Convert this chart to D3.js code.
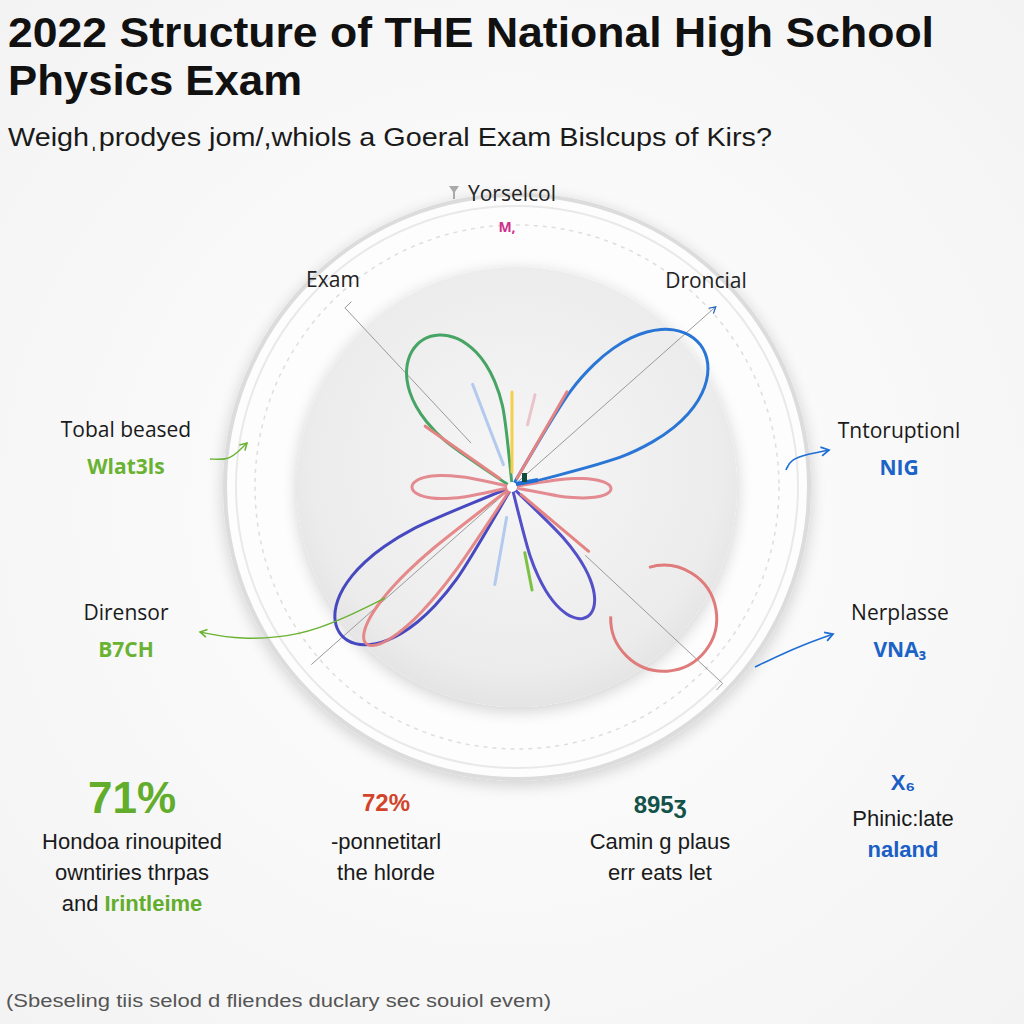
<!DOCTYPE html>
<html>
<head>
<meta charset="utf-8">
<script src="https://cdn.jsdelivr.net/npm/d3@7"></script>
<style>
  html, body { margin: 0; padding: 0; background: #fff; }
  svg { display: block; }
</style>
</head>
<body>
<div id="chart"></div>
<script>
// ---- data ----
// petals: direction (deg, clockwise from north), length, half width (deg)
var petalNames  = ["Exam", "Droncial", "Dirensor", "Nerplasse", "Tobal", "Tntoruption", "Base"];
var petalAngles = [-31, 53, 229, 150, 270, 91, 223];
var petalLength = [172, 236, 226, 150, 100, 99, 214];
var petalWidth  = [27, 24, 20, 17, 13, 11, 10];
var petalColors = ["#3c9f5c", "#1f6fd4", "#3d3fbd", "#4b47c4", "#e2858a", "#e2858a", "#e58383"];

// short strokes: angle, inner r, outer r
var strokeAngles = [339, 0, 14, 190, 169, 305, 30, 130];
var strokeInner  = [24, 15, 64, 31, 67, 15, 10, 12];
var strokeOuter  = [110, 95, 95, 99, 105, 106, 110, 100];
var strokeColors = ["#b3c9ee", "#f3d04c", "#e9c4cc", "#b3c9ee", "#7cc242", "#e58383", "#e58383", "#e58383"];

// hook arc (deg)
var hookStart = -16, hookEnd = 272, hookRadius = 53;

// axis rays: angle, from r, to r
var axisAngles = [317, 48.5, 228.5, 133];
var axisFrom   = [60, 0, 0, 100];
var axisTo     = [245, 272, 268, 288];

var title1 = "2022 Structure of THE National High School";
var title2 = "Physics Exam";
var subtitle = "Weigh\u02ccprodyes jom/,whiols a Goeral Exam Bislcups of Kirs?";

var topLabel = "Yorselcol", topTag = "M,";
var ringLabels = ["Exam", "Droncial"];
var sideTitles = ["Tobal beased", "Dirensor", "Tntoruptionl", "Nerplasse"];
var sideValues = ["Wlat3ls", "B7CH", "NIG", "VNA\u2083"];
var sideColors = ["#6ab232", "#6ab232", "#1b63c6", "#1b63c6"];

var statValues = ["71%", "72%", "895\u0292", "X\u2086"];
var statColors = ["#62ad2c", "#d2442a", "#12524a", "#1b5fc4"];
var statLines  = [["Hondoa rinoupited", "owntiries thrpas", "and |Irintleime"],
                  ["-ponnetitarl", "the hlorde"],
                  ["Camin g plaus", "err eats let"],
                  ["Phinic:late", "|naland"]];
var footnote = "(Sbeseling tiis selod d fliendes duclary sec souiol evem)";

// ---- layout ----
var W = 1024, H = 1024;
var cx = 512, cy = 487;
var ring = { cx: 517, cy: 487, outer: 292, second: 281, dashed: 262, disc: 220 };

var svg = d3.select("#chart").append("svg")
    .attr("width", W).attr("height", H)
    .attr("viewBox", "0 0 " + W + " " + H);

var defs = svg.append("defs");
var bg = defs.append("radialGradient").attr("id", "bg").attr("cx", "50%").attr("cy", "50%").attr("r", "70%");
bg.append("stop").attr("offset", "0%").attr("stop-color", "#ffffff");
bg.append("stop").attr("offset", "100%").attr("stop-color", "#f3f3f3");
var disc = defs.append("radialGradient").attr("id", "disc").attr("cx", "50%").attr("cy", "45%").attr("r", "55%");
disc.append("stop").attr("offset", "0%").attr("stop-color", "#f6f6f6");
disc.append("stop").attr("offset", "85%").attr("stop-color", "#ececec");
disc.append("stop").attr("offset", "100%").attr("stop-color", "#e4e4e4");
var sh = defs.append("filter").attr("id", "shadow").attr("x", "-20%").attr("y", "-20%").attr("width", "140%").attr("height", "140%");
sh.append("feGaussianBlur").attr("in", "SourceAlpha").attr("stdDeviation", 8);
sh.append("feOffset").attr("dx", 0).attr("dy", 4).attr("result", "b");
sh.append("feComponentTransfer").append("feFuncA").attr("type", "linear").attr("slope", 0.18);
var m = sh.append("feMerge");
m.append("feMergeNode");
m.append("feMergeNode").attr("in", "SourceGraphic");
defs.append("marker").attr("id", "arrBlue").attr("viewBox", "0 0 10 10").attr("refX", 8).attr("refY", 5)
    .attr("markerWidth", 7).attr("markerHeight", 7).attr("orient", "auto")
  .append("path").attr("d", "M1,1 L8,5 L1,9").attr("fill", "none").attr("stroke", "#1f6fd4").attr("stroke-width", 1.6);
defs.append("marker").attr("id", "arrGreen").attr("viewBox", "0 0 10 10").attr("refX", 8).attr("refY", 5)
    .attr("markerWidth", 7).attr("markerHeight", 7).attr("orient", "auto")
  .append("path").attr("d", "M1,1 L8,5 L1,9").attr("fill", "none").attr("stroke", "#6ab232").attr("stroke-width", 1.6);
defs.append("marker").attr("id", "arrBlue2").attr("viewBox", "0 0 10 10").attr("refX", 8).attr("refY", 5)
    .attr("markerWidth", 9).attr("markerHeight", 9).attr("orient", "auto")
  .append("path").attr("d", "M1,1 L8,5 L1,9").attr("fill", "none").attr("stroke", "#1b63c6").attr("stroke-width", 1.4);

svg.append("rect").attr("width", W).attr("height", H).attr("fill", "url(#bg)");

// ---- rings ----
var rg = svg.append("g").attr("transform", "translate(" + ring.cx + "," + ring.cy + ")");
rg.append("circle").attr("r", ring.outer).attr("fill", "#fdfdfd").attr("stroke", "#dcdcdc").attr("stroke-width", 4).attr("filter", "url(#shadow)");
rg.append("circle").attr("r", ring.second).attr("fill", "none").attr("stroke", "#e9e9e9").attr("stroke-width", 2);
rg.append("circle").attr("r", ring.dashed).attr("fill", "none").attr("stroke", "#dedede").attr("stroke-width", 1.5).attr("stroke-dasharray", "4,5");
rg.append("circle").attr("r", ring.disc).attr("fill", "url(#disc)").attr("filter", "url(#shadow)");

// ---- polar scales ----
var ang = d3.scaleLinear().domain([0, 360]).range([0, 2 * Math.PI]);
var rad = d3.scaleLinear().domain([0, 100]).range([0, 100]);
function pt(a, r) { return [cx + rad(r) * Math.sin(ang(a)), cy - rad(r) * Math.cos(ang(a))]; }

var plot = svg.append("g");

// axis rays
var axisG = plot.append("g").attr("stroke", "#9a9a9a").attr("stroke-width", 1).attr("fill", "none");
axisAngles.forEach(function(a, i) {
  var p0 = pt(a, axisFrom[i]), p1 = pt(a, axisTo[i]);
  var l = axisG.append("line").attr("x1", p0[0]).attr("y1", p0[1]).attr("x2", p1[0]).attr("y2", p1[1]);
  if (i === 1) l.attr("marker-end", "url(#arrBlue2)");
  if (i === 0 || i === 3) {
    var t0 = pt(a, axisTo[i]), t1 = [t0[0] + 9 * Math.cos(ang(a)), t0[1] + 9 * Math.sin(ang(a))];
    axisG.append("line").attr("x1", t0[0]).attr("y1", t0[1]).attr("x2", t1[0]).attr("y2", t1[1]);
  }
});

// petals
var petalLine = d3.lineRadial()
    .angle(function(d) { return ang(d[0]); })
    .radius(function(d) { return rad(d[1]); })
    .curve(d3.curveCatmullRomClosed);
var petalG = plot.append("g").attr("transform", "translate(" + cx + "," + cy + ")").attr("fill", "none");
petalAngles.forEach(function(a, i) {
  var pts = d3.range(-1, 1.0001, 0.1).map(function(t) {
    return [a + t * petalWidth[i], petalLength[i] * Math.pow(Math.cos(t * Math.PI / 2), 0.4)];
  });
  petalG.append("path").attr("d", petalLine(pts))
    .attr("stroke", petalColors[i]).attr("stroke-width", 3).attr("stroke-linejoin", "round")
    .attr("opacity", 0.95);
});

// short strokes
strokeAngles.forEach(function(a, i) {
  var p0 = pt(a, strokeInner[i]), p1 = pt(a, strokeOuter[i]);
  plot.append("line").attr("x1", p0[0]).attr("y1", p0[1]).attr("x2", p1[0]).attr("y2", p1[1])
    .attr("stroke", strokeColors[i]).attr("stroke-width", 3).attr("stroke-linecap", "round");
});

// hook
var hookCenter = pt(130, 198);
var hp = d3.path();
hp.arc(hookCenter[0], hookCenter[1] + 4, hookRadius, ang(hookStart) - Math.PI / 2, ang(hookEnd) - Math.PI / 2);
plot.append("path").attr("d", hp.toString()).attr("fill", "none").attr("stroke", "#e07b7b").attr("stroke-width", 3);

// centre marks
plot.append("circle").attr("cx", cx).attr("cy", cy).attr("r", 5).attr("fill", "#fff");
plot.append("path").attr("d", "M" + (cx + 4) + "," + (cy - 3) + " l 22,-4").attr("stroke", "#1f6fd4").attr("stroke-width", 4);
plot.append("rect").attr("x", cx + 10).attr("y", cy - 14).attr("width", 5).attr("height", 9).attr("fill", "#0f4a3a");

// connectors
var connect = d3.line().curve(d3.curveBasis);
svg.append("path").attr("d", connect([[385, 598], [345, 618], [300, 636], [240, 640], [200, 632]]))
  .attr("fill", "none").attr("stroke", "#6ab232").attr("stroke-width", 1.4).attr("marker-end", "url(#arrGreen)");
svg.append("path").attr("d", connect([[210, 459], [228, 460], [238, 452], [247, 443]]))
  .attr("fill", "none").attr("stroke", "#6ab232").attr("stroke-width", 1.4).attr("marker-end", "url(#arrGreen)");
svg.append("path").attr("d", connect([[786, 470], [790, 460], [808, 454], [829, 450]]))
  .attr("fill", "none").attr("stroke", "#1f6fd4").attr("stroke-width", 1.6).attr("marker-end", "url(#arrBlue)");
svg.append("path").attr("d", connect([[755, 667], [780, 655], [805, 644], [833, 634]]))
  .attr("fill", "none").attr("stroke", "#1f6fd4").attr("stroke-width", 1.6).attr("marker-end", "url(#arrBlue)");

// ---- texts ----
var sans = "'Open Sans', 'Noto Sans', sans-serif";
var arial = "'Liberation Sans', Arial, sans-serif";

svg.append("text").attr("x", 8).attr("y", 47).text(title1)
  .attr("font-family", arial).attr("font-weight", 700).attr("font-size", 42)
  .attr("textLength", 926).attr("lengthAdjust", "spacingAndGlyphs").attr("fill", "#111");
svg.append("text").attr("x", 8).attr("y", 95).text(title2)
  .attr("font-family", arial).attr("font-weight", 700).attr("font-size", 42)
  .attr("textLength", 294).attr("lengthAdjust", "spacingAndGlyphs").attr("fill", "#111");
svg.append("text").attr("x", 8).attr("y", 146).text(subtitle)
  .attr("font-family", arial).attr("font-size", 26)
  .attr("textLength", 764).attr("lengthAdjust", "spacingAndGlyphs").attr("fill", "#1a1a1a");

svg.append("path").attr("d", "M449,186 L459,186 L455,192 L455,199 L453,199 L453,192 Z").attr("fill", "#aaa");
svg.append("text").attr("x", 512).attr("y", 201).attr("text-anchor", "middle").text(topLabel)
  .attr("font-family", sans).attr("font-size", 21).attr("fill", "#222");
svg.append("text").attr("x", 507).attr("y", 232).attr("text-anchor", "middle").text(topTag)
  .attr("font-family", sans).attr("font-weight", 700).attr("font-size", 14).attr("fill", "#d0308a");

var ringPos = [[333, 287], [706, 288]];
ringLabels.forEach(function(t, i) {
  svg.append("text").attr("x", ringPos[i][0]).attr("y", ringPos[i][1]).attr("text-anchor", "middle").text(t)
    .attr("font-family", sans).attr("font-size", 21).attr("fill", "#222");
});

var sidePos = [[126, 437], [126, 620], [899, 438], [900, 620]];
sideTitles.forEach(function(t, i) {
  svg.append("text").attr("x", sidePos[i][0]).attr("y", sidePos[i][1]).attr("text-anchor", "middle").text(t)
    .attr("font-family", sans).attr("font-size", 21).attr("fill", "#1a1a1a");
  svg.append("text").attr("x", sidePos[i][0]).attr("y", sidePos[i][1] + 37).attr("text-anchor", "middle").text(sideValues[i])
    .attr("font-family", sans).attr("font-weight", 700).attr("font-size", 21).attr("fill", sideColors[i]);
});

var statPos = [[132, 813], [386, 811], [660, 813], [903, 790]];
var statSize = [44, 24, 24, 22];
var lineStart = [849, 849, 849, 826];
statValues.forEach(function(v, i) {
  svg.append("text").attr("x", statPos[i][0]).attr("y", statPos[i][1]).attr("text-anchor", "middle").text(v)
    .attr("font-family", arial).attr("font-weight", 700).attr("font-size", statSize[i]).attr("fill", statColors[i]);
  statLines[i].forEach(function(s, j) {
    var t = svg.append("text").attr("x", statPos[i][0]).attr("y", lineStart[i] + j * 31).attr("text-anchor", "middle")
      .attr("font-family", arial).attr("font-size", 22).attr("fill", "#1a1a1a");
    var parts = s.split("|");
    t.append("tspan").text(parts[0]);
    if (parts.length > 1) t.append("tspan").text(parts[1]).attr("font-weight", 700).attr("fill", i === 0 ? "#62ad2c" : "#1b5fc4");
  });
});

svg.append("text").attr("x", 6).attr("y", 1007).text(footnote)
  .attr("font-family", arial).attr("font-size", 18).attr("fill", "#555")
  .attr("textLength", 545).attr("lengthAdjust", "spacingAndGlyphs");
</script>
</body>
</html>
